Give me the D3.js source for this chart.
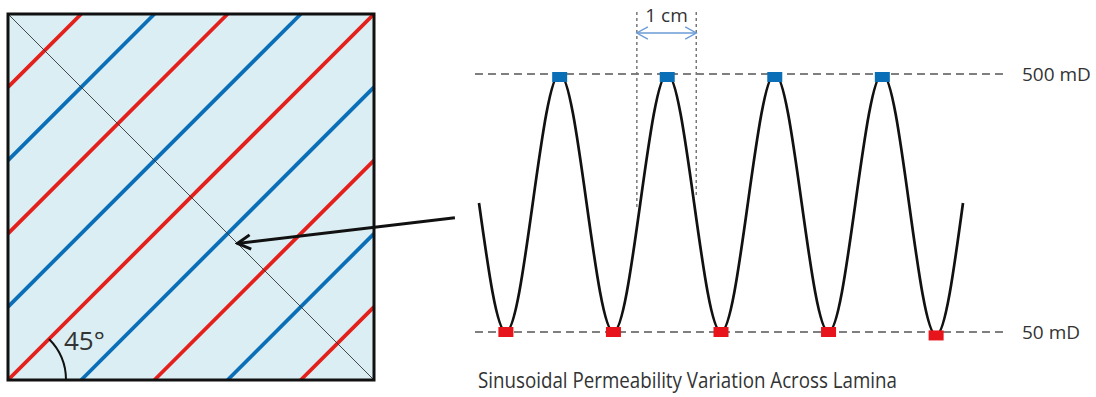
<!DOCTYPE html>
<html>
<head>
<meta charset="utf-8">
<script src="https://cdn.jsdelivr.net/npm/d3@7"></script>
<style>
  html, body { margin: 0; padding: 0; background: #fff; }
  svg { display: block; }
  text { font-family: "Open Sans", Lato, sans-serif; fill: #333; }
</style>
</head>
<body>
<div id="chart"></div>
<script>
// Left panel: laminae at 45 degrees, offsets as fraction of square side
const stripeOffsets = [-0.8, -0.6, -0.4, -0.2, 0, 0.2, 0.4, 0.6, 0.8];
const stripeColors = ["#e3201b", "#0b6fb8", "#e3201b", "#0b6fb8", "#e3201b", "#0b6fb8", "#e3201b", "#0b6fb8", "#e3201b"];

// Right panel: permeability across the lamina (x in quarter wavelengths)
const positions = [0, 1, 3, 5, 7, 9, 11, 13, 15, 17, 18];
const permeability = [275, 50, 500, 50, 500, 50, 500, 50, 500, 44, 275];
const refLevels = [500, 50];
const refLabels = ["500 mD", "50 mD"];
const cmBracket = [5.87, 8.08];
const cmLabel = "1 cm";
const angleLabel = "45°";
const title = "Sinusoidal Permeability Variation Across Lamina";

const W = 1096, H = 397;
const svg = d3.select("#chart").append("svg")
    .attr("width", W)
    .attr("height", H);

const defs = svg.append("defs");
// open chevron pointing along the line direction
function chevron(id, color, size, sw) {
    defs.append("marker")
        .attr("id", id)
        .attr("viewBox", `${-size - 2} ${-size} ${size + 4} ${size * 2}`)
        .attr("refX", 0).attr("refY", 0)
        .attr("markerWidth", size + 4).attr("markerHeight", size * 2)
        .attr("markerUnits", "userSpaceOnUse")
        .attr("orient", "auto-start-reverse")
        .append("path")
        .attr("d", `M${-size},${-size * 0.55}L0,0L${-size},${size * 0.55}`)
        .attr("fill", "none")
        .attr("stroke", color)
        .attr("stroke-width", sw)
        .attr("stroke-linejoin", "miter");
}
chevron("chev", "#111", 13, 3);
chevron("chevBlue", "#6a9bd6", 11, 1.4);

// ---- left square ----
const sx = d3.scaleLinear().domain([0, 1]).range([8, 374]);
const sy = d3.scaleLinear().domain([0, 1]).range([380, 14]);

svg.append("rect")
    .attr("x", sx(0)).attr("y", sy(1))
    .attr("width", sx(1) - sx(0)).attr("height", sy(0) - sy(1))
    .attr("fill", "#daeef3");

// line u - v = d clipped to unit square
const stripeEnds = d => d >= 0 ? [[d, 0], [1, 1 - d]] : [[0, -d], [1 + d, 1]];

svg.append("g")
    .selectAll("line")
    .data(stripeOffsets)
    .join("line")
    .attr("x1", d => sx(stripeEnds(d)[0][0]))
    .attr("y1", d => sy(stripeEnds(d)[0][1]))
    .attr("x2", d => sx(stripeEnds(d)[1][0]))
    .attr("y2", d => sy(stripeEnds(d)[1][1]))
    .attr("stroke", (d, i) => stripeColors[i])
    .attr("stroke-width", 3.8);

// thin cross diagonal
svg.append("line")
    .attr("x1", sx(0)).attr("y1", sy(1))
    .attr("x2", sx(1)).attr("y2", sy(0))
    .attr("stroke", "#333")
    .attr("stroke-width", 0.9);

svg.append("rect")
    .attr("x", sx(0)).attr("y", sy(1))
    .attr("width", sx(1) - sx(0)).attr("height", sy(0) - sy(1))
    .attr("fill", "none")
    .attr("stroke", "#111")
    .attr("stroke-width", 3);

// angle arc
const arcPath = d3.path();
arcPath.arc(sx(0), sy(0), 58, 0, -Math.PI / 4, true);
svg.append("path")
    .attr("d", arcPath.toString())
    .attr("fill", "none")
    .attr("stroke", "#111")
    .attr("stroke-width", 2);

svg.append("text")
    .attr("x", 64).attr("y", 350)
    .attr("font-size", 26)
    .text(angleLabel);

// arrow pointing into the square
svg.append("line")
    .attr("x1", sx(0.627)).attr("y1", sy(0.373))
    .attr("x2", sx(1.221)).attr("y2", sy(0.443))
    .attr("stroke", "#111")
    .attr("stroke-width", 3)
    .attr("marker-start", "url(#chev)");

// ---- right panel ----
const x = d3.scaleLinear().domain([0, 18]).range([479, 963]);
const y = d3.scaleLinear().domain([50, 500]).range([332, 74]);

const pts = positions.map((p, i) => ({ p, v: permeability[i] }));

svg.append("g")
    .selectAll("line")
    .data(refLevels)
    .join("line")
    .attr("x1", x(-0.15)).attr("x2", x(19.5))
    .attr("y1", d => y(d)).attr("y2", d => y(d))
    .attr("stroke", "#555")
    .attr("stroke-width", 1.3)
    .attr("stroke-dasharray", "8,5");

svg.append("g")
    .selectAll("text")
    .data(refLevels)
    .join("text")
    .attr("x", 1022)
    .attr("y", d => y(d) + 7)
    .attr("font-size", 19)
    .text((d, i) => refLabels[i]);

// 1 cm bracket
svg.append("g")
    .selectAll("line")
    .data(cmBracket)
    .join("line")
    .attr("x1", d => x(d)).attr("x2", d => x(d))
    .attr("y1", 12)
    .attr("y2", (d, i) => i === 0 ? y(268) : y(289))
    .attr("stroke", "#777")
    .attr("stroke-width", 1.5)
    .attr("stroke-dasharray", "3,3");

svg.append("line")
    .attr("x1", x(cmBracket[0])).attr("x2", x(cmBracket[1]))
    .attr("y1", 33).attr("y2", 33)
    .attr("stroke", "#6a9bd6")
    .attr("stroke-width", 1.3)
    .attr("marker-start", "url(#chevBlue)")
    .attr("marker-end", "url(#chevBlue)");

svg.append("text")
    .attr("x", (x(cmBracket[0]) + x(cmBracket[1])) / 2)
    .attr("y", 22)
    .attr("text-anchor", "middle")
    .attr("font-size", 19)
    .text(cmLabel);

// sinusoid
const line = d3.line()
    .x(d => x(d.p))
    .y(d => y(d.v))
    .curve(d3.curveMonotoneX);

svg.append("path")
    .datum(pts)
    .attr("d", line)
    .attr("fill", "none")
    .attr("stroke", "#111")
    .attr("stroke-width", 2.7);

// extreme markers
const extremes = pts.filter(d => d.v >= 500 || d.v <= 50);
svg.append("g")
    .selectAll("rect")
    .data(extremes)
    .join("rect")
    .attr("x", d => x(d.p) - 7.5)
    .attr("y", d => y(d.v) - 5 + (d.v >= 500 ? 3 : 0))
    .attr("width", 15)
    .attr("height", 10)
    .attr("fill", d => d.v >= 500 ? "#0b6fb8" : "#e8141b");

svg.append("text")
    .attr("x", 478)
    .attr("y", 388)
    .attr("font-size", 22.5)
    .attr("textLength", 419)
    .attr("lengthAdjust", "spacingAndGlyphs")
    .text(title);
</script>
</body>
</html>
